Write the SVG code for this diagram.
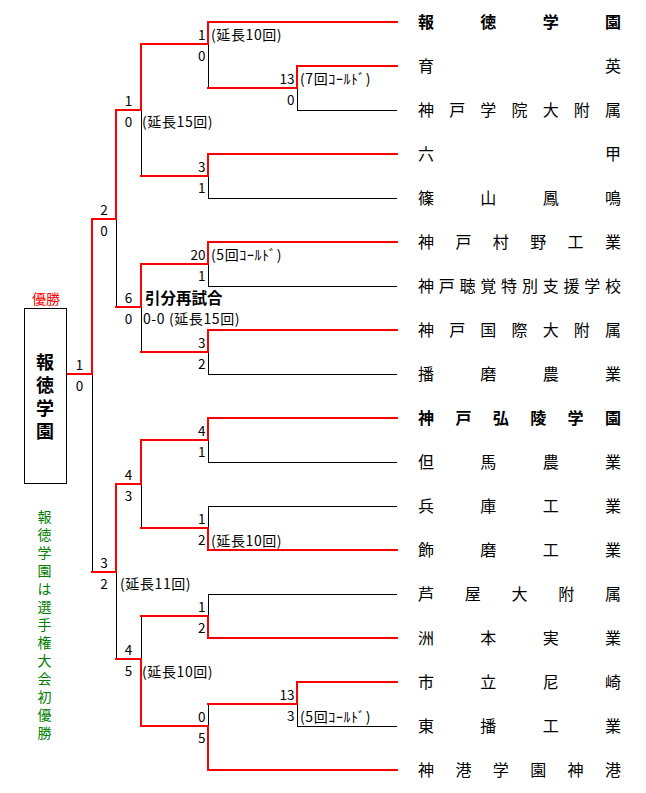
<svg xmlns="http://www.w3.org/2000/svg" width="646" height="793" viewBox="0 0 646 793">
<style>
text{font-family:"Noto Sans CJK JP","Noto Sans CJK SC",sans-serif;fill:#000}
.nm{font-size:16px}
.b{font-weight:bold}
.sc{font-size:13.5px;text-anchor:end}
.scm{font-size:13.5px;text-anchor:middle}
.an{font-size:14px;letter-spacing:0.6px}
.red{stroke:#f00;stroke-width:2;fill:none;stroke-linecap:square}
.blk{stroke:#000;stroke-width:1;fill:none}
</style>
<rect x="0" y="0" width="646" height="793" fill="#fff"/>
<g id="connectors">
<path class="blk" d="M297,110.5H397M208,198.5H397M208,286.5H397M208,374.5H397M208,462.5H397M208,506.5H397M208,594.5H397M297,726.5H397
M297.5,88V110M297.5,704V726
M208.5,44V88M208.5,176V198M208.5,264V286M208.5,352V374M208.5,440V462M208.5,506V528M208.5,594V616M208.5,704V726
M141.5,110V176M141.5,307V352M141.5,484V528M141.5,616V659
M116.5,219V307M116.5,572V659
M92.5,374V572"/>
<path class="red" d="M397,22H208V44H141V110H116V219H92V374H67"/>
<path class="red" d="M397,66H297V88H208"/>
<path class="red" d="M397,154H208V176H141"/>
<path class="red" d="M397,242H208V264H141V307H116"/>
<path class="red" d="M397,330H208V352H141"/>
<path class="red" d="M397,418H208V440H141V484H116V572H92"/>
<path class="red" d="M397,550H208V528H141"/>
<path class="red" d="M397,638H208V616H141"/>
<path class="red" d="M397,682H297V704H208"/>
<path class="red" d="M397,770H208V726H141V659H116"/>
</g>
<g id="champion">
<text x="46" y="304" font-size="14" text-anchor="middle" style="fill:#f00">優勝</text>
<rect x="24.5" y="308.5" width="42" height="175" fill="none" stroke="#000" stroke-width="1"/>
<text x="45 45 45 45" y="369 392 415 438" font-size="18" font-weight="bold" text-anchor="middle">報徳学園</text>
</g>
<g id="note">
<text x="44.5 44.5 44.5 44.5 44.5 44.5 44.5 44.5 44.5 44.5 44.5 44.5 44.5" y="522 540 558 576 594 612 630 648 666 684 702 720 738" font-size="14" text-anchor="middle" style="fill:#008000">報徳学園は選手権大会初優勝</text>
</g>
<g id="teams">
<g id="t0"><text class="nm b" x="418 480.3 542.7 605" y="28">報徳学園</text></g>
<g id="t1"><text class="nm" x="418 605" y="72">育英</text></g>
<g id="t2"><text class="nm" x="418 449.2 480.3 511.5 542.7 573.8 605" y="116">神戸学院大附属</text></g>
<g id="t3"><text class="nm" x="418 605" y="160">六甲</text></g>
<g id="t4"><text class="nm" x="418 480.3 542.7 605" y="204">篠山鳳鳴</text></g>
<g id="t5"><text class="nm" x="418 455.4 492.8 530.2 567.6 605" y="248">神戸村野工業</text></g>
<g id="t6"><text class="nm" x="418 438.8 459.6 480.3 501.1 521.9 542.7 563.4 584.2 605" y="292">神戸聴覚特別支援学校</text></g>
<g id="t7"><text class="nm" x="418 449.2 480.3 511.5 542.7 573.8 605" y="336">神戸国際大附属</text></g>
<g id="t8"><text class="nm" x="418 480.3 542.7 605" y="380">播磨農業</text></g>
<g id="t9"><text class="nm b" x="418 455.4 492.8 530.2 567.6 605" y="424">神戸弘陵学園</text></g>
<g id="t10"><text class="nm" x="418 480.3 542.7 605" y="468">但馬農業</text></g>
<g id="t11"><text class="nm" x="418 480.3 542.7 605" y="512">兵庫工業</text></g>
<g id="t12"><text class="nm" x="418 480.3 542.7 605" y="556">飾磨工業</text></g>
<g id="t13"><text class="nm" x="418 464.8 511.5 558.3 605" y="600">芦屋大附属</text></g>
<g id="t14"><text class="nm" x="418 480.3 542.7 605" y="644">洲本実業</text></g>
<g id="t15"><text class="nm" x="418 480.3 542.7 605" y="688">市立尼崎</text></g>
<g id="t16"><text class="nm" x="418 480.3 542.7 605" y="732">東播工業</text></g>
<g id="t17"><text class="nm" x="418 455.4 492.8 530.2 567.6 605" y="776">神港学園神港</text></g>
</g>
<g id="scores">
<text class="sc" x="294.5" y="84">13</text><text class="sc" x="294.5" y="105">0</text>
<text class="sc" x="294.5" y="700">13</text><text class="sc" x="294.5" y="721">3</text>
<text class="sc" x="205.5" y="40">1</text><text class="sc" x="205.5" y="61">0</text>
<text class="sc" x="205.5" y="172">3</text><text class="sc" x="205.5" y="193">1</text>
<text class="sc" x="205.5" y="260">20</text><text class="sc" x="205.5" y="281">1</text>
<text class="sc" x="205.5" y="348">3</text><text class="sc" x="205.5" y="369">2</text>
<text class="sc" x="205.5" y="436">4</text><text class="sc" x="205.5" y="457">1</text>
<text class="sc" x="205.5" y="524">1</text><text class="sc" x="205.5" y="545">2</text>
<text class="sc" x="205.5" y="612">1</text><text class="sc" x="205.5" y="633">2</text>
<text class="sc" x="205.5" y="722">0</text><text class="sc" x="205.5" y="743">5</text>
<text class="scm" x="128.5" y="106">1</text><text class="scm" x="128.5" y="127">0</text>
<text class="scm" x="128.5" y="303">6</text><text class="scm" x="128.5" y="324">0</text>
<text class="scm" x="128.5" y="480">4</text><text class="scm" x="128.5" y="501">3</text>
<text class="scm" x="128.5" y="655">4</text><text class="scm" x="128.5" y="676">5</text>
<text class="scm" x="104" y="215">2</text><text class="scm" x="104" y="236">0</text>
<text class="scm" x="104" y="568">3</text><text class="scm" x="104" y="589">2</text>
<text class="scm" x="79.5" y="370">1</text><text class="scm" x="79.5" y="391">0</text>
</g>
<g id="notes">
<text class="an" x="211" y="40">(延長10回)</text>
<text class="an" x="300" y="84">(7回ｺｰﾙﾄﾞ)</text>
<text class="an" x="142" y="127">(延長15回)</text>
<text class="an" x="211" y="260">(5回ｺｰﾙﾄﾞ)</text>
<text x="145" y="304" font-size="15.5" font-weight="bold">引分再試合</text>
<text class="an" x="143" y="324">0-0 (延長15回)</text>
<text class="an" x="211" y="546">(延長10回)</text>
<text class="an" x="120" y="589">(延長11回)</text>
<text class="an" x="142" y="677">(延長10回)</text>
<text class="an" x="300" y="722">(5回ｺｰﾙﾄﾞ)</text>
</g>
</svg>
